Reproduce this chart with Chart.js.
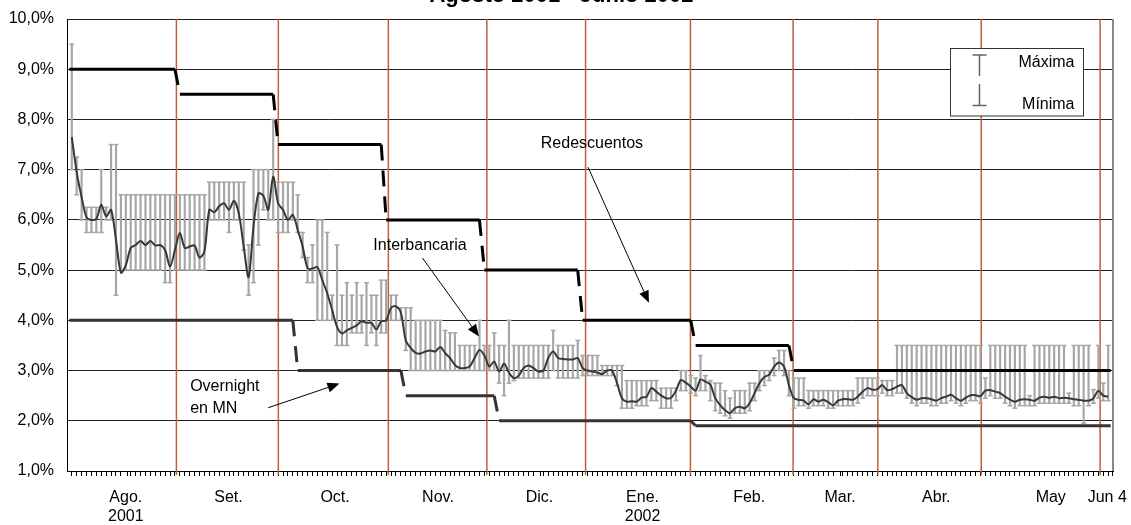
<!DOCTYPE html>
<html>
<head>
<meta charset="utf-8">
<title>Tasas de interés: Agosto 2001 - Junio 2002</title>
<script src="https://cdn.jsdelivr.net/npm/chart.js@4.4.1/dist/chart.umd.min.js"></script>
<style>
  html, body { margin: 0; padding: 0; background: #fff; }
  #wrap { position: relative; width: 1131px; height: 525px; }
</style>
</head>
<body>
<div id="wrap"><canvas id="chart"></canvas></div>
<script>
const FONT = "'Liberation Sans', Arial, sans-serif";

// one slot per business day, Aug 2001 .. Jun 4 2002 (212 days)
const interbancaria = [
  7.65, 6.95, 6.45, 6.05, 6.00, 6.02, 6.30, 6.07, 6.20, 5.60,
  4.95, 5.10, 5.44, 5.50, 5.58, 5.50, 5.58, 5.49, 5.50, 5.40,
  5.07, 5.40, 5.74, 5.44, 5.47, 5.49, 5.25, 5.37, 6.20, 6.15,
  6.27, 6.33, 6.20, 6.38, 6.13, 5.47, 4.86, 5.87, 6.53, 6.48,
  6.20, 6.86, 6.33, 6.20, 6.00, 6.10, 5.80, 5.47, 5.04, 5.03,
  5.06, 4.80, 4.54, 4.21, 3.87, 3.74, 3.80, 3.85, 3.90, 3.98,
  3.95, 3.95, 3.82, 3.98, 4.00, 4.25, 4.28, 4.15, 3.60, 3.45,
  3.35, 3.34, 3.38, 3.40, 3.38, 3.47, 3.35, 3.25, 3.11, 3.05,
  3.05, 3.08, 3.25, 3.41, 3.30, 3.08, 3.18, 2.98, 3.14, 2.96,
  2.85, 2.90, 3.05, 3.10, 3.05, 2.98, 3.00, 3.25, 3.38, 3.25,
  3.23, 3.22, 3.22, 3.25, 3.05, 3.00, 2.98, 2.96, 2.93, 3.00,
  3.00, 2.75, 2.45, 2.38, 2.39, 2.38, 2.46, 2.48, 2.65, 2.58,
  2.50, 2.45, 2.46, 2.60, 2.81, 2.76, 2.68, 2.60, 2.82, 2.78,
  2.72, 2.45, 2.31, 2.21, 2.15, 2.25, 2.28, 2.25, 2.35, 2.55,
  2.75, 2.87, 2.92, 3.08, 3.16, 3.08, 2.71, 2.45, 2.42, 2.40,
  2.33, 2.43, 2.38, 2.42, 2.37, 2.31, 2.40, 2.43, 2.43, 2.42,
  2.48, 2.58, 2.65, 2.62, 2.63, 2.71, 2.61, 2.63, 2.68, 2.71,
  2.55, 2.47, 2.42, 2.45, 2.45, 2.43, 2.40, 2.45, 2.48, 2.52,
  2.45, 2.40, 2.46, 2.51, 2.51, 2.49, 2.60, 2.61, 2.58, 2.55,
  2.48, 2.42, 2.38, 2.42, 2.43, 2.42, 2.40, 2.46, 2.48, 2.46,
  2.48, 2.45, 2.46, 2.45, 2.43, 2.42, 2.40, 2.40, 2.45, 2.60,
  2.50, 2.48
];

const maxima = [
  9.50, 7.25, 7.00, 6.25, 6.25, 6.25, 7.00, 6.25, 7.50, 7.50,
  6.50, 6.50, 6.50, 6.50, 6.50, 6.50, 6.50, 6.50, 6.50, 6.50,
  6.50, 6.50, 6.50, 6.50, 6.50, 6.50, 6.50, 6.50, 6.75, 6.75,
  6.75, 6.75, 6.75, 6.75, 6.75, 6.75, 5.50, 7.00, 7.00, 7.00,
  7.00, 8.00, 6.75, 6.75, 6.75, 6.75, 6.50, 5.75, 5.25, 5.50,
  6.00, 6.00, 5.75, 4.50, 5.50, 4.50, 4.75, 4.50, 4.75, 4.50,
  4.75, 4.50, 4.50, 4.80, 4.80, 4.50, 4.50, 4.25, 4.25, 4.25,
  4.00, 4.00, 4.00, 4.00, 4.00, 4.00, 3.80, 3.75, 3.75, 3.50,
  3.50, 3.50, 3.50, 4.00, 3.50, 3.50, 3.75, 3.50, 3.50, 4.00,
  3.50, 3.50, 3.50, 3.50, 3.50, 3.50, 3.50, 3.50, 3.80, 3.50,
  3.50, 3.50, 3.50, 3.60, 3.30, 3.30, 3.30, 3.30, 3.10, 3.10,
  3.10, 3.10, 3.10, 2.80, 2.80, 2.80, 2.80, 2.80, 2.80, 2.80,
  2.65, 2.65, 2.65, 2.65, 3.00, 3.00, 2.90, 2.85, 3.30, 2.90,
  2.80, 2.75, 2.75, 2.60, 2.45, 2.60, 2.60, 2.60, 2.75, 2.75,
  3.00, 3.00, 3.00, 3.25, 3.40, 3.40, 3.00, 2.85, 2.85, 2.85,
  2.60, 2.60, 2.60, 2.60, 2.60, 2.60, 2.60, 2.60, 2.60, 2.60,
  2.85, 2.85, 2.85, 2.85, 2.85, 2.80, 2.80, 2.80, 3.50, 3.50,
  3.50, 3.50, 3.50, 3.50, 3.50, 3.50, 3.50, 3.50, 3.50, 3.50,
  3.50, 3.50, 3.50, 3.50, 3.50, 3.50, 2.85, 3.50, 3.50, 3.50,
  3.50, 3.50, 3.50, 3.50, 3.50, 2.50, 3.50, 3.50, 3.50, 3.50,
  3.50, 3.50, 3.50, 2.55, 3.50, 3.50, 3.50, 3.50, 2.62, 3.50,
  2.75, 3.50
];

const minima = [
  7.00, 6.50, 6.00, 5.75, 5.75, 5.75, 5.75, 6.00, 6.00, 4.50,
  5.00, 5.00, 5.00, 5.00, 5.00, 5.00, 5.00, 5.00, 5.00, 4.75,
  4.75, 5.00, 5.00, 5.00, 5.00, 5.00, 5.00, 5.00, 6.00, 6.00,
  6.00, 6.00, 5.75, 6.00, 6.00, 5.40, 4.50, 4.75, 5.50, 6.20,
  6.00, 6.00, 5.75, 5.75, 5.75, 6.00, 5.75, 5.25, 4.75, 4.75,
  4.00, 4.00, 4.00, 4.00, 3.50, 3.50, 3.50, 3.75, 3.75, 3.75,
  3.50, 3.75, 3.50, 3.75, 3.75, 4.00, 4.00, 4.00, 3.40, 3.00,
  3.00, 3.00, 3.00, 3.00, 3.00, 3.00, 3.00, 3.00, 3.00, 3.00,
  3.00, 3.00, 3.00, 3.00, 3.00, 3.00, 3.00, 2.75, 2.50, 2.75,
  2.80, 2.85, 2.85, 2.85, 2.85, 2.85, 2.85, 2.85, 3.00, 2.85,
  2.85, 2.85, 2.85, 2.85, 2.90, 2.90, 2.90, 2.90, 2.90, 2.90,
  2.90, 2.70, 2.25, 2.25, 2.25, 2.30, 2.30, 2.30, 2.40, 2.40,
  2.25, 2.25, 2.25, 2.40, 2.60, 2.60, 2.55, 2.50, 2.60, 2.60,
  2.40, 2.20, 2.15, 2.10, 2.05, 2.15, 2.15, 2.15, 2.20, 2.40,
  2.60, 2.70, 2.80, 2.90, 3.00, 2.90, 2.50, 2.25, 2.30, 2.30,
  2.25, 2.30, 2.30, 2.30, 2.25, 2.25, 2.30, 2.30, 2.30, 2.30,
  2.35, 2.45, 2.50, 2.50, 2.50, 2.55, 2.50, 2.50, 2.55, 2.55,
  2.45, 2.35, 2.30, 2.35, 2.35, 2.30, 2.30, 2.35, 2.35, 2.40,
  2.35, 2.30, 2.35, 2.40, 2.40, 2.35, 2.45, 2.50, 2.45, 2.45,
  2.35, 2.30, 2.25, 2.30, 2.30, 2.30, 2.30, 2.35, 2.35, 2.35,
  2.35, 2.35, 2.35, 2.35, 2.30, 2.30, 1.95, 2.30, 2.35, 2.45,
  2.40, 2.40
];

// policy rates: step changes (x in day slots)
const redescX = [0, 21.5, 22.5, 41.5, 42.5, 63.5, 64.5, 83.5, 84.5, 103.5, 104.5, 126.5, 127.5, 146.5, 147.5, 212];
const redescY = [9.0, 9.0, 8.5, 8.5, 7.5, 7.5, 6.0, 6.0, 5.0, 5.0, 4.0, 4.0, 3.5, 3.5, 3.0, 3.0];
const overnightX = [0, 45.5, 46.5, 67.5, 68.5, 86.5, 87.5, 126.5, 127.5, 212];
const overnightY = [4.0, 4.0, 3.0, 3.0, 2.5, 2.5, 2.0, 2.0, 1.9, 1.9];

// month labels (centred under each month) and month separators
const monthTickPos = [11.5, 32.4, 54.1, 75.05, 95.7, 116.7, 138.4, 156.9, 176.5, 199.8, 211.3];
const monthTickText = [['Ago.', '2001'], 'Set.', 'Oct.', 'Nov.', 'Dic.', ['Ene.', '2002'], 'Feb.', 'Mar.', 'Abr.', 'May', 'Jun 4'];
const monthLines = [21.8, 42.55, 64.95, 85.0, 105.1, 126.45, 147.35, 164.6, 185.65, 209.85];

const N_DAYS = interbancaria.length;
const slot = i => i + 0.5;

const interPts = interbancaria.map((v, i) => ({ x: slot(i), y: v }));
const rangePts = maxima.map((v, i) => ({ x: slot(i), y: [minima[i], v] }));
const maxPts = maxima.map((v, i) => ({ x: slot(i), y: v }));
const minPts = minima.map((v, i) => ({ x: slot(i), y: v }));
const redescPts = redescX.map((x, i) => ({ x: x, y: redescY[i] }));
const overnightPts = overnightX.map((x, i) => ({ x: x, y: overnightY[i] }));

const stepDash = c => (c.p0.parsed.y !== c.p1.parsed.y ? [16, 10] : undefined);

function arrow(ctx, from, to) {
  const [x0, y0] = from, [x1, y1] = to;
  const a = Math.atan2(y1 - y0, x1 - x0), L = 12, W = 5;
  const bx = x1 - L * Math.cos(a), by = y1 - L * Math.sin(a);
  ctx.lineWidth = 1;
  ctx.beginPath(); ctx.moveTo(x0, y0); ctx.lineTo(bx, by); ctx.stroke();
  ctx.beginPath();
  ctx.moveTo(x1, y1);
  ctx.lineTo(bx + W * Math.sin(a), by - W * Math.cos(a));
  ctx.lineTo(bx - W * Math.sin(a), by + W * Math.cos(a));
  ctx.closePath(); ctx.fill();
}

const monthLinesPlugin = {
  id: 'monthLines',
  beforeDatasetsDraw(chart) {
    const { ctx, chartArea: a, scales: { x } } = chart;
    ctx.save();
    ctx.strokeStyle = '#bf6035';
    ctx.lineWidth = 1.5;
    monthLines.forEach(v => {
      const px = x.getPixelForValue(v);
      ctx.beginPath(); ctx.moveTo(px, a.top); ctx.lineTo(px, a.bottom + 4); ctx.stroke();
    });
    ctx.restore();
  }
};

const notesPlugin = {
  id: 'notes',
  afterDatasetsDraw(chart) {
    const { ctx, scales: { x, y } } = chart;
    const P = (a, b) => [x.getPixelForValue(a), y.getPixelForValue(b)];
    ctx.save();
    ctx.fillStyle = '#000';
    ctx.strokeStyle = '#000';
    ctx.font = '16px ' + FONT;
    ctx.textBaseline = 'middle';
    ctx.textAlign = 'center';
    ctx.fillText('Redescuentos', ...P(106.4, 7.51));
    ctx.fillText('Interbancaria', ...P(71.4, 5.48));
    ctx.textAlign = 'left';
    ctx.fillText('Overnight', ...P(24.6, 2.68));
    ctx.fillText('en MN', ...P(24.6, 2.25));
    arrow(ctx, P(105.6, 7.05), P(118.0, 4.35));
    arrow(ctx, P(71.9, 5.24), P(83.4, 3.68));
    arrow(ctx, P(40.5, 2.26), P(55.0, 2.74));
    ctx.restore();
  }
};

const boxLegendPlugin = {
  id: 'boxLegend',
  afterDraw(chart) {
    const { ctx, chartArea: a } = chart;
    // right frame
    ctx.save();
    ctx.strokeStyle = '#888';
    ctx.lineWidth = 2;
    ctx.beginPath(); ctx.moveTo(a.right, a.top); ctx.lineTo(a.right, a.bottom); ctx.stroke();

    const bx = a.right - 162.5, by = a.top + 29.5, bw = 133, bh = 67.5;
    ctx.fillStyle = '#fff';
    ctx.fillRect(bx, by, bw, bh);
    ctx.strokeStyle = '#333';
    ctx.lineWidth = 1;
    ctx.strokeRect(bx, by, bw, bh);

    const sx = bx + 29;
    ctx.strokeStyle = '#666';
    ctx.lineWidth = 1.5;
    ctx.beginPath();
    ctx.moveTo(sx - 7, by + 6.5); ctx.lineTo(sx + 7, by + 6.5);
    ctx.moveTo(sx, by + 6.5); ctx.lineTo(sx, by + 27.5);
    ctx.moveTo(sx, by + 35.5); ctx.lineTo(sx, by + 57);
    ctx.moveTo(sx - 7, by + 57); ctx.lineTo(sx + 7, by + 57);
    ctx.stroke();

    ctx.fillStyle = '#000';
    ctx.font = '16px ' + FONT;
    ctx.textAlign = 'right';
    ctx.textBaseline = 'middle';
    ctx.fillText('Máxima', bx + 124, by + 14.5);
    ctx.fillText('Mínima', bx + 124, by + 56.5);
    ctx.restore();
  }
};

Chart.defaults.font.family = FONT;
Chart.defaults.font.size = 16;
Chart.defaults.color = '#000';

new Chart(document.getElementById('chart'), {
  type: 'line',
  data: {
    datasets: [
      { label: 'Redescuentos', data: redescPts, borderColor: '#000', borderWidth: 3,
        pointRadius: 0, segment: { borderDash: stepDash }, order: 0 },
      { label: 'Overnight en MN', data: overnightPts, borderColor: '#333', borderWidth: 3,
        pointRadius: 0, segment: { borderDash: stepDash }, order: 1 },
      { label: 'Interbancaria', data: interPts, borderColor: '#383838', borderWidth: 2,
        pointRadius: 0, tension: 0.3, order: 2 },
      { type: 'scatter', label: 'Máxima', data: maxPts, pointStyle: 'line', pointRadius: 2.4,
        borderColor: '#a6a6a6', pointBorderColor: '#a6a6a6', pointBorderWidth: 1.5, order: 3 },
      { type: 'scatter', label: 'Mínima', data: minPts, pointStyle: 'line', pointRadius: 2.4,
        borderColor: '#a6a6a6', pointBorderColor: '#a6a6a6', pointBorderWidth: 1.5, order: 4 },
      { type: 'bar', label: 'Rango', data: rangePts, backgroundColor: '#a6a6a6',
        barThickness: 1.5, order: 5 }
    ]
  },
  options: {
    responsive: true,
    maintainAspectRatio: false,
    animation: false,
    devicePixelRatio: 1,
    events: [],
    layout: { padding: { left: 10, right: 18, top: 0, bottom: 0 } },
    plugins: {
      legend: { display: false },
      tooltip: { enabled: false },
      title: {
        display: true,
        text: 'Agosto 2001 - Junio 2002',
        color: '#000',
        font: { family: FONT, size: 22, weight: 'bold' },
        padding: { top: -17, bottom: 9.6 }
      }
    },
    scales: {
      x: {
        type: 'linear',
        min: 0,
        max: N_DAYS,
        afterBuildTicks(scale) {
          const t = [];
          for (let i = 0; i <= N_DAYS; i++) t.push({ value: i });
          monthTickPos.forEach(v => t.push({ value: v }));
          t.sort((p, q) => p.value - q.value);
          scale.ticks = t;
        },
        afterFit(scale) {
          scale.height = 54;
          scale.paddingLeft = 0;
          scale.paddingRight = 0;
        },
        ticks: {
          autoSkip: false,
          maxRotation: 0,
          minRotation: 0,
          padding: 12,
          color: '#000',
          font: { size: 16 },
          callback(value) {
            const k = monthTickPos.indexOf(value);
            return k >= 0 ? monthTickText[k] : '';
          }
        },
        grid: {
          drawOnChartArea: false,
          drawTicks: true,
          tickLength: 5,
          lineWidth: 1,
          color: c => (c.tick && monthTickPos.includes(c.tick.value)) ? 'rgba(0,0,0,0)' : '#000'
        },
        border: { display: true, color: '#000', width: 1 }
      },
      y: {
        min: 1,
        max: 10,
        afterFit(scale) {
          scale.width = 57;
          scale.paddingTop = 0;
          scale.paddingBottom = 0;
        },
        ticks: {
          stepSize: 1,
          padding: 13,
          color: '#000',
          font: { size: 16 },
          callback: v => v.toFixed(1).replace('.', ',') + '%'
        },
        grid: { color: '#222', lineWidth: 1, drawTicks: false },
        border: { color: '#000', width: 1 }
      }
    }
  },
  plugins: [monthLinesPlugin, notesPlugin, boxLegendPlugin]
});
</script>
</body>
</html>
